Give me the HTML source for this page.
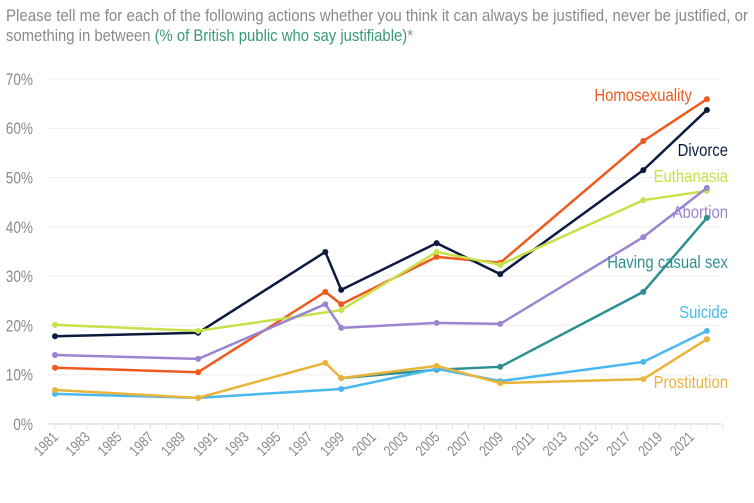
<!DOCTYPE html>
<html><head><meta charset="utf-8"><style>
html,body{margin:0;padding:0;background:#fff;width:754px;height:503px;overflow:hidden}
svg text{font-family:"Liberation Sans Narrow","Liberation Sans",sans-serif}
</style></head><body>
<svg id="chart" width="754" height="503" xmlns="http://www.w3.org/2000/svg">
<text x="6" y="21" font-size="17" fill="#8a8a8a" textLength="742" lengthAdjust="spacingAndGlyphs">Please tell me for each of the following actions whether you think it can always be justified, never be justified, or</text>
<text x="6" y="41" font-size="17" fill="#8a8a8a" textLength="407" lengthAdjust="spacingAndGlyphs">something in between <tspan fill="#3a9a78">(% of British public who say justifiable)</tspan>*</text>
<g id="grid"></g>
<g id="xaxis"></g>
<g id="series"></g>
</svg>
<script>
const years=[1981,1990,1998,1999,2005,2009,2018,2022];
const homosexuality=[11.4,10.5,26.8,24.3,33.9,32.7,57.4,65.9];
const divorce=[17.8,18.5,34.9,27.2,36.7,30.4,51.5,63.7];
const euthanasiaYears=[1981,1990,1999,2005,2009,2018,2022];
const euthanasia=[20.1,18.9,23.1,34.9,32.3,45.4,47.3];
const abortion=[14.0,13.2,24.3,19.5,20.5,20.3,37.9,47.9];
const casualYears=[1999,2005,2009,2018,2022];
const casualSex=[9.3,11.0,11.6,26.8,41.8];
const suicideYears=[1981,1990,1999,2005,2009,2018,2022];
const suicide=[6.1,5.3,7.1,11.2,8.7,12.6,18.9];
const prostitution=[6.9,5.3,12.4,9.3,11.8,8.3,9.1,17.2];
const yTicks=[0,10,20,30,40,50,60,70];
const xTickYears=[1981,1983,1985,1987,1989,1991,1993,1995,1997,1999,2001,2003,2005,2007,2009,2011,2013,2015,2017,2019,2021];

const NS="http://www.w3.org/2000/svg";
const x=y=>55+(y-1981)*15.9;
const yS=v=>424-v*4.93;
function mk(t,a,p){const e=document.createElementNS(NS,t);for(const k in a)e.setAttribute(k,a[k]);p.appendChild(e);return e;}
function narrow(t,f){const w=t.getComputedTextLength();t.setAttribute('textLength',(w*f).toFixed(1));t.setAttribute('lengthAdjust','spacingAndGlyphs');}
const grid=document.getElementById('grid');
yTicks.forEach(v=>{
  const l=mk('line',{x1:48,x2:722,y1:yS(v),y2:yS(v),stroke:v===0?'#e4e4e4':'#efefef','stroke-width':v===0?1.5:1},grid);
  
  
  const t=mk('text',{x:33,y:yS(v)+6,'text-anchor':'end','font-size':17,fill:'#8a8a8a'},grid);
  t.textContent=v+'%';
  
  
  narrow(t,0.8);
});
const xa=document.getElementById('xaxis');
for(let yr=1981;yr<=2023;yr++){
  const tk=mk('line',{x1:x(yr),x2:x(yr),y1:424,y2:429,stroke:'#e0e0e0'},xa);
  
  
}
xTickYears.forEach(yr=>{
  const t=mk('text',{x:0,y:0,'text-anchor':'end','font-size':15,fill:'#8a8a8a',transform:`translate(${x(yr)+4},${438}) rotate(-45)`},xa);
  t.textContent=yr;
  
  
  narrow(t,0.8);
});
const ser=document.getElementById('series');
const list=[
 ['homosexuality',years,homosexuality,'#ee5a1e','Homosexuality',692,101],
 ['divorce',years,divorce,'#0d1a40','Divorce',728,156],
 ['euthanasia',euthanasiaYears,euthanasia,'#c8e04a','Euthanasia',728,182],
 ['abortion',years,abortion,'#9b84d0','Abortion',728,218],
 ['having-casual-sex',casualYears,casualSex,'#2f8f94','Having casual sex',728,268],
 ['suicide',suicideYears,suicide,'#4ab8ef','Suicide',728,318],
 ['prostitution',years,prostitution,'#e9b43a','Prostitution',728,388]
];
list.forEach(([n,xs,vs,c,lab,lx,ly])=>{
  const g=mk('g',{},ser);
  
  
  const p=mk('polyline',{points:xs.map((yr,i)=>x(yr)+','+yS(vs[i])).join(' '),fill:'none',stroke:c,'stroke-width':2.5,'stroke-linejoin':'round'},g);
  
  
  xs.forEach((yr,i)=>{
    const d=mk('circle',{cx:x(yr),cy:yS(vs[i]),r:3,fill:c},g);
    
    
  });
  const t=mk('text',{x:lx,y:ly,'text-anchor':'end','font-size':17.5,fill:c},g);
  t.textContent=lab;
  
  
  narrow(t,0.85);
});
</script>
</body></html>
